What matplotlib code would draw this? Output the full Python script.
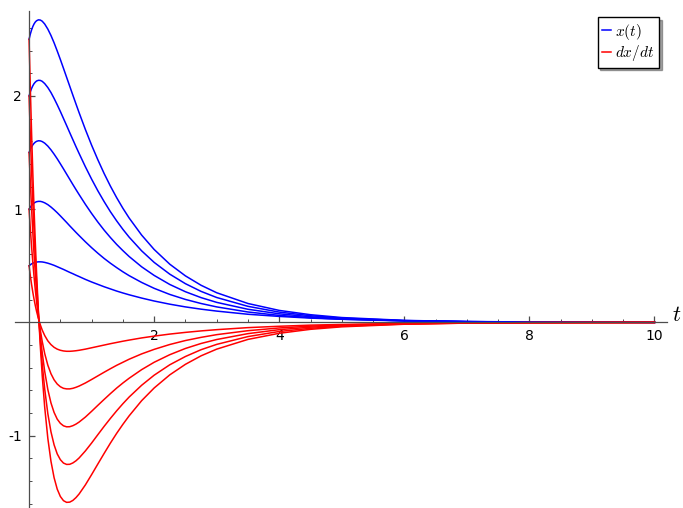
import matplotlib
matplotlib.use("Agg")
import matplotlib.pyplot as plt
from matplotlib.ticker import FixedLocator, FixedFormatter, MultipleLocator

plt.rcParams["mathtext.fontset"] = "cm"

# sample times
t = [0, 0.02, 0.04, 0.06, 0.08, 0.1, 0.12, 0.15, 0.18, 0.21, 0.25, 0.3, 0.35, 0.4,
     0.45, 0.5, 0.55, 0.6, 0.65, 0.7, 0.75, 0.8, 0.9, 1.0, 1.1, 1.2, 1.3, 1.4, 1.5,
     1.6, 1.8, 2.0, 2.25, 2.5, 2.75, 3.0, 3.5, 4.0, 4.5, 5.0, 6.0, 7.0, 8.0, 10.0]

# x(t) curves (blue)
x_1 = [0.500, 0.509, 0.517, 0.523, 0.527, 0.531, 0.533, 0.535, 0.535, 0.534,
       0.530, 0.523, 0.514, 0.504, 0.492, 0.480, 0.468, 0.455, 0.442, 0.430,
       0.417, 0.405, 0.380, 0.357, 0.336, 0.315, 0.296, 0.277, 0.260, 0.244,
       0.215, 0.189, 0.161, 0.137, 0.117, 0.100, 0.072, 0.053, 0.038, 0.028,
       0.015, 0.008, 0.004, 0.001]
x_2 = [1.000, 1.018, 1.033, 1.045, 1.054, 1.061, 1.066, 1.069, 1.069, 1.065,
       1.056, 1.040, 1.019, 0.995, 0.969, 0.941, 0.912, 0.883, 0.853, 0.824,
       0.795, 0.767, 0.712, 0.660, 0.611, 0.565, 0.523, 0.484, 0.447, 0.413,
       0.353, 0.301, 0.247, 0.203, 0.167, 0.137, 0.092, 0.062, 0.042, 0.028,
       0.013, 0.006, 0.003, 0.001]
x_3 = [1.500, 1.527, 1.550, 1.568, 1.582, 1.592, 1.599, 1.604, 1.603, 1.597,
       1.583, 1.557, 1.524, 1.486, 1.445, 1.401, 1.356, 1.310, 1.264, 1.218,
       1.173, 1.129, 1.043, 0.962, 0.886, 0.815, 0.750, 0.689, 0.634, 0.582,
       0.491, 0.415, 0.335, 0.271, 0.219, 0.177, 0.116, 0.076, 0.050, 0.032,
       0.014, 0.006, 0.003, 0.000]
x_4 = [2.000, 2.036, 2.066, 2.090, 2.109, 2.122, 2.132, 2.138, 2.137, 2.129,
       2.109, 2.074, 2.030, 1.978, 1.922, 1.863, 1.801, 1.739, 1.676, 1.614,
       1.552, 1.492, 1.375, 1.265, 1.162, 1.067, 0.978, 0.897, 0.822, 0.753,
       0.632, 0.530, 0.426, 0.342, 0.274, 0.220, 0.142, 0.091, 0.059, 0.038,
       0.016, 0.007, 0.003, 0.000]
x_5 = [2.500, 2.546, 2.583, 2.613, 2.636, 2.653, 2.664, 2.672, 2.670, 2.660,
       2.635, 2.590, 2.534, 2.469, 2.397, 2.322, 2.244, 2.165, 2.086, 2.007,
       1.929, 1.852, 1.704, 1.565, 1.436, 1.315, 1.204, 1.102, 1.008, 0.922,
       0.771, 0.644, 0.514, 0.411, 0.328, 0.262, 0.167, 0.106, 0.068, 0.043,
       0.018, 0.007, 0.003, 0.000]

# dx/dt curves (red)
v_1 = [0.500, 0.413, 0.335, 0.266, 0.203, 0.148, 0.098, 0.033, -0.021, -0.067,
       -0.116, -0.163, -0.196, -0.220, -0.236, -0.246, -0.252, -0.255, -0.255, -0.253,
       -0.250, -0.246, -0.236, -0.224, -0.212, -0.200, -0.188, -0.177, -0.166, -0.156,
       -0.137, -0.121, -0.103, -0.088, -0.075, -0.064, -0.046, -0.034, -0.024, -0.018,
       -0.009, -0.005, -0.003, -0.001]
v_2 = [1.000, 0.827, 0.670, 0.529, 0.401, 0.286, 0.182, 0.046, -0.069, -0.167,
       -0.275, -0.378, -0.453, -0.507, -0.544, -0.568, -0.582, -0.587, -0.587, -0.582,
       -0.573, -0.562, -0.535, -0.504, -0.472, -0.440, -0.409, -0.379, -0.352, -0.325,
       -0.278, -0.238, -0.195, -0.160, -0.132, -0.108, -0.073, -0.049, -0.033, -0.022,
       -0.010, -0.005, -0.002, -0.000]
v_3 = [1.500, 1.240, 1.005, 0.792, 0.599, 0.425, 0.268, 0.061, -0.117, -0.267,
       -0.433, -0.593, -0.711, -0.795, -0.854, -0.891, -0.913, -0.922, -0.921, -0.912,
       -0.898, -0.880, -0.836, -0.785, -0.732, -0.680, -0.629, -0.580, -0.535, -0.493,
       -0.417, -0.352, -0.285, -0.230, -0.186, -0.151, -0.099, -0.064, -0.042, -0.028,
       -0.012, -0.005, -0.002, -0.000]
v_4 = [2.000, 1.655, 1.341, 1.057, 0.799, 0.566, 0.355, 0.077, -0.162, -0.365,
       -0.589, -0.806, -0.966, -1.081, -1.161, -1.212, -1.242, -1.254, -1.253, -1.241,
       -1.222, -1.197, -1.135, -1.065, -0.991, -0.918, -0.848, -0.781, -0.718, -0.659,
       -0.555, -0.466, -0.374, -0.301, -0.241, -0.194, -0.125, -0.080, -0.052, -0.033,
       -0.014, -0.006, -0.002, -0.000]
v_5 = [2.500, 2.068, 1.675, 1.318, 0.995, 0.702, 0.438, 0.087, -0.212, -0.468,
       -0.750, -1.024, -1.226, -1.371, -1.472, -1.537, -1.574, -1.589, -1.587, -1.572,
       -1.547, -1.515, -1.435, -1.344, -1.250, -1.157, -1.066, -0.980, -0.900, -0.825,
       -0.691, -0.579, -0.463, -0.370, -0.295, -0.236, -0.150, -0.096, -0.061, -0.039,
       -0.016, -0.006, -0.003, -0.000]

x_curves = [x_1, x_2, x_3, x_4, x_5]
v_curves = [v_1, v_2, v_3, v_4, v_5]

x_ticks = [2, 4, 6, 8, 10]
x_ticklabels = ["2", "4", "6", "8", "10"]
y_ticks = [-1, 1, 2]
y_ticklabels = ["-1", "1", "2"]

fig = plt.figure(figsize=(6.83, 5.08), dpi=100)
ax = fig.add_axes([15 / 683, 1 / 508, 652 / 683, 496 / 508])
ax.set_xlim(-0.225, 10.2)
ax.set_ylim(-1.63, 2.75)

for i, xs in enumerate(x_curves):
    ax.plot(t, xs, color=(0, 0, 1), lw=1.1, label="$x(t)$" if i == 0 else None)
for i, vs in enumerate(v_curves):
    ax.plot(t, vs, color=(1, 0, 0), lw=1.1, label="$dx/dt$" if i == 0 else None)

for side in ("top", "right"):
    ax.spines[side].set_visible(False)
for side in ("left", "bottom"):
    ax.spines[side].set_position(("data", 0))
    ax.spines[side].set_color("0.3")
    ax.spines[side].set_linewidth(0.9)

ax.xaxis.set_major_locator(FixedLocator(x_ticks))
ax.xaxis.set_major_formatter(FixedFormatter(x_ticklabels))
ax.xaxis.set_minor_locator(MultipleLocator(0.5))
ax.yaxis.set_major_locator(FixedLocator(y_ticks))
ax.yaxis.set_major_formatter(FixedFormatter(y_ticklabels))
ax.yaxis.set_minor_locator(MultipleLocator(0.2))
ax.tick_params(which="both", direction="in", color="0.3", labelsize=10, pad=5)
ax.tick_params(which="major", length=4, width=0.9)
ax.tick_params(which="minor", length=2, width=0.7)

leg = ax.legend(loc="upper right", bbox_to_anchor=(659 / 683, 1 - 17 / 508),
                bbox_transform=fig.transFigure, borderaxespad=0, fancybox=False,
                shadow=True, handlelength=0.6, handletextpad=0.25, labelspacing=0.1,
                borderpad=0.3, fontsize=11)
leg.get_frame().set_edgecolor("black")
leg.get_frame().set_linewidth(1.0)

fig.text(677 / 683, 1 - 315 / 508, "$t$", fontsize=16, ha="center", va="center")

fig.savefig("out.png", dpi=100)
